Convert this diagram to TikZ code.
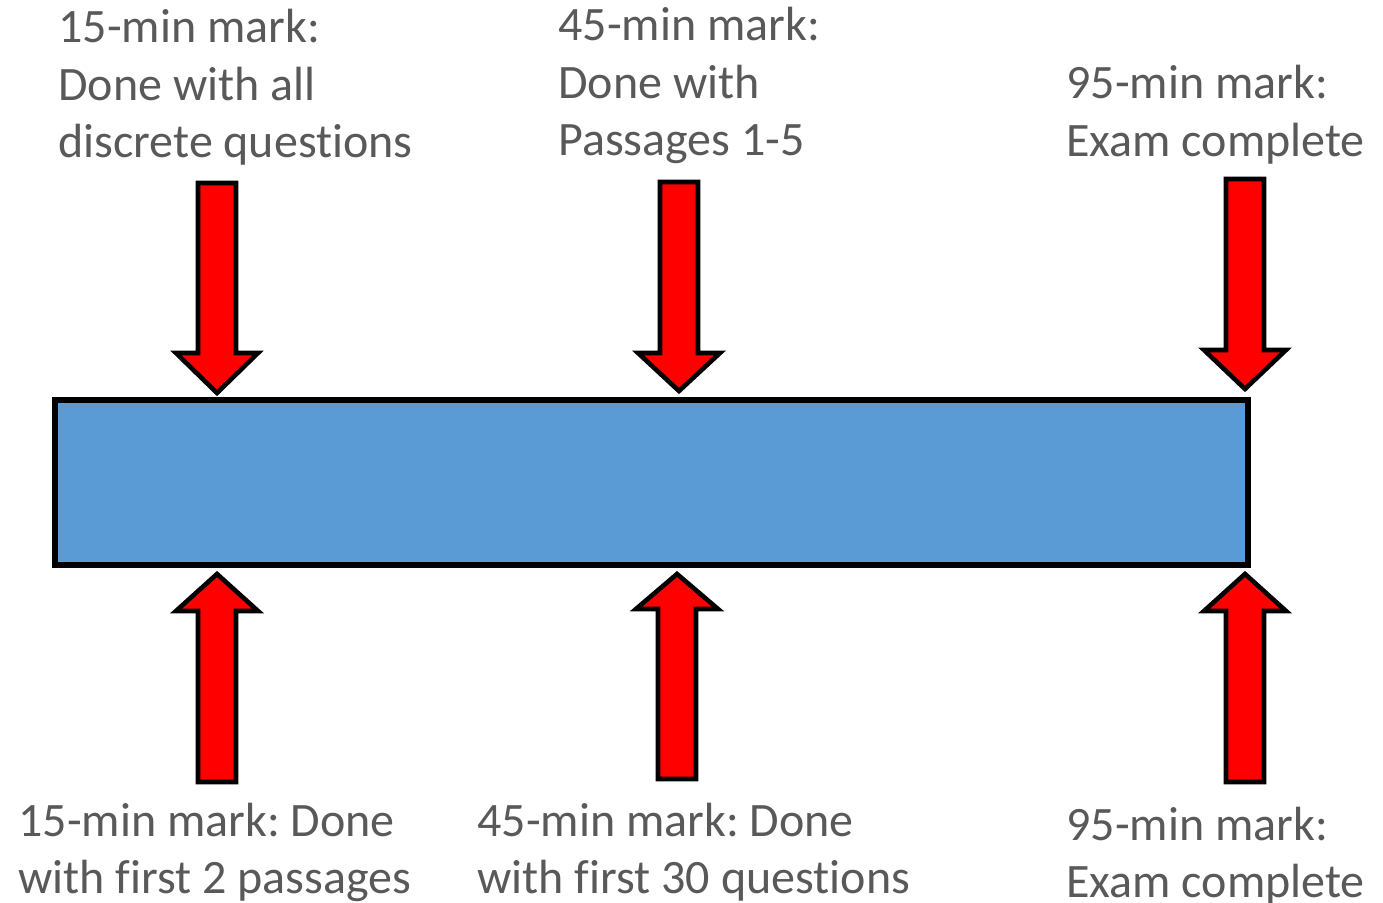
\documentclass[tikz,border=0pt]{standalone}
\usepackage{fontspec}
\setmainfont{Carlito}[Ligatures={NoCommon}]
\frenchspacing
\definecolor{barblue}{HTML}{5B9BD5}
\definecolor{markred}{HTML}{FF0000}
\definecolor{labelgray}{HTML}{595959}
\tikzset{
  timebar/.style={draw=black, line width=2.6pt, fill=barblue, inner sep=0pt,
    minimum width=596.5pt, minimum height=82.5pt},
  blockarrow/.style={draw=black, line width=2.3pt, fill=markred, line join=miter},
  marklabel/.style={anchor=base west, inner sep=0pt, text=labelgray,
    font=\fontsize{24}{28.75}\selectfont},
}
\newcommand{\marktext}[1]{\begin{tabular}[t]{@{}l@{}}#1\end{tabular}}
\begin{document}
\begin{tikzpicture}[x=0.5pt, y=-0.5pt]
  \useasboundingbox (0,0) rectangle (1383,903);

  % the exam timeline
  \node[timebar] (bar) at (651.5,482.5) {};

  % markers pointing down onto the bar
  \foreach \cx/\ty/\hy/\py in {217/183/353/393, 679/182/353/391, 1245/179/350/389} {
    \draw[blockarrow] (\cx-19,\ty) -- (\cx+19,\ty) -- (\cx+19,\hy) -- (\cx+41,\hy)
      -- (\cx,\py) -- (\cx-41,\hy) -- (\cx-19,\hy) -- cycle;
  }
  % markers pointing up at the bar
  \foreach \cx/\by/\hy/\py in {217/782/611/574, 677/779/609/574, 1245/782/611/574} {
    \draw[blockarrow] (\cx-19,\by) -- (\cx+19,\by) -- (\cx+19,\hy) -- (\cx+41,\hy)
      -- (\cx,\py) -- (\cx-41,\hy) -- (\cx-19,\hy) -- cycle;
  }

  % labels above the bar
  \node[marklabel] (t1) at (58,43)
    {\marktext{15-min mark:\\Done with all\\discrete questions}};
  \node[marklabel] (t2) at (558,41)
    {\marktext{45-min mark:\\Done with\\Passages 1-5}};
  \node[marklabel] (t3) at (1066,99)
    {\marktext{95-min mark:\\Exam complete}};

  % labels below the bar
  \node[marklabel] (b1) at (18,836)
    {\marktext{15-min mark: Done\\with first 2 passages}};
  \node[marklabel] (b2) at (477,836)
    {\marktext{45-min mark: Done\\with first 30 questions}};
  \node[marklabel] (b3) at (1066,840)
    {\marktext{95-min mark:\\Exam complete}};
\end{tikzpicture}
\end{document}
